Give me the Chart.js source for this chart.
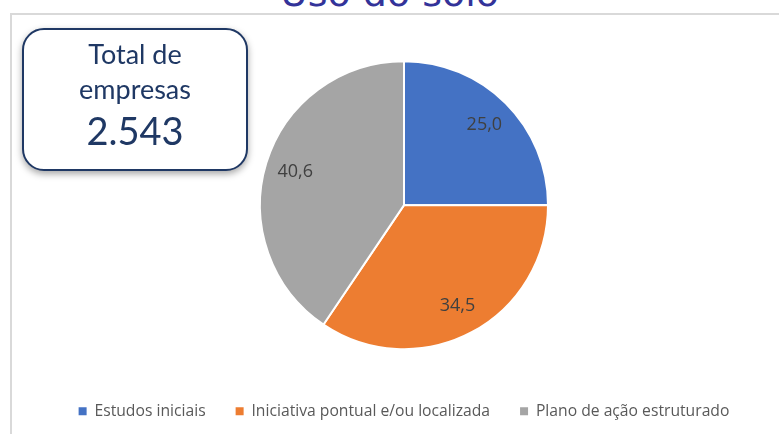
<!DOCTYPE html>
<html>
<head>
<meta charset="utf-8">
<script src="https://cdn.jsdelivr.net/npm/chart.js@4"></script>
<style>
  html, body { margin: 0; padding: 0; background: #fff; }
  #wrap { position: relative; width: 779px; height: 434px; overflow: hidden; }
  #frame { position: absolute; left: 10px; top: 13px; right: -10px; bottom: -10px;
           border-top: 2px solid #d9d9d9; border-left: 2px solid #d9d9d9; }
  #titulo { position: absolute; left: 0; width: 779px; top: -26px; text-align: center;
            font-family: "DejaVu Sans", sans-serif; font-size: 38px; line-height: 38px; color: #333399; }
  canvas { position: absolute; left: 0; top: 0; }
  #caixa { position: absolute; left: 22px; top: 28px; width: 222px; height: 139px;
           border: 2px solid #1f3864; border-radius: 22px; background: #fff;
           box-shadow: 0 3px 7px rgba(0,0,0,0.35);
           font-family: Lato, sans-serif; color: #1f3864; text-align: center; }
  .linha { position: absolute; left: 0; width: 100%; }
</style>
</head>
<body>
<div id="wrap">
  <div id="frame"></div>
  <div id="titulo">Uso do solo</div>
  <canvas id="pizza" width="779" height="434"></canvas>
  <div id="caixa">
    <div class="linha" style="top:8px;font-size:27px;line-height:32px;">Total de</div>
    <div class="linha" style="top:43px;font-size:27px;line-height:32px;">empresas</div>
    <div class="linha" style="top:78px;font-size:38px;line-height:44px;">2.543</div>
  </div>
</div>
<script>
const categorias = ['Estudos iniciais', 'Iniciativa pontual e/ou localizada', 'Plano de ação estruturado'];
const valores = [25.0, 34.5, 40.6];
const cores = ['#4472c4', '#ed7d31', '#a5a5a5'];

// rótulos de valor dentro das fatias
const rotulos = {
    id: 'rotulos',
    afterDatasetsDraw(chart) {
        const ctx = chart.ctx;
        const meta = chart.getDatasetMeta(0);
        ctx.save();
        ctx.font = '18px "Open Sans", sans-serif';
        ctx.fillStyle = '#404040';
        ctx.textAlign = 'center';
        ctx.textBaseline = 'middle';
        meta.data.forEach((arc, i) => {
            const p = arc.getProps(['x', 'y', 'startAngle', 'endAngle', 'outerRadius'], true);
            const meio = (p.startAngle + p.endAngle) / 2;
            const r = p.outerRadius * 0.79;
            const txt = valores[i].toFixed(1).replace('.', ',');
            ctx.fillText(txt, p.x + Math.cos(meio) * r, p.y + Math.sin(meio) * r);
        });
        ctx.restore();
    }
};

new Chart(document.getElementById('pizza').getContext('2d'), {
    type: 'pie',
    data: {
        labels: categorias,
        datasets: [{
            data: valores,
            backgroundColor: cores,
            borderColor: '#ffffff',
            borderWidth: 2,
            radius: 144
        }]
    },
    options: {
        responsive: false,
        animation: false,
        layout: { padding: { top: 37, left: 29, right: 0, bottom: 5 } },
        plugins: {
            legend: {
                position: 'bottom',
                labels: {
                    boxWidth: 8,
                    boxHeight: 8,
                    padding: 30,
                    color: '#595959',
                    font: { family: '"Open Sans", sans-serif', size: 15.7 },
                    generateLabels(chart) {
                        const itens = Chart.overrides.pie.plugins.legend.labels.generateLabels(chart);
                        itens.forEach(it => { it.lineWidth = 0; });
                        return itens;
                    }
                }
            },
            tooltip: { enabled: false }
        }
    },
    plugins: [rotulos]
});
</script>
</body>
</html>
